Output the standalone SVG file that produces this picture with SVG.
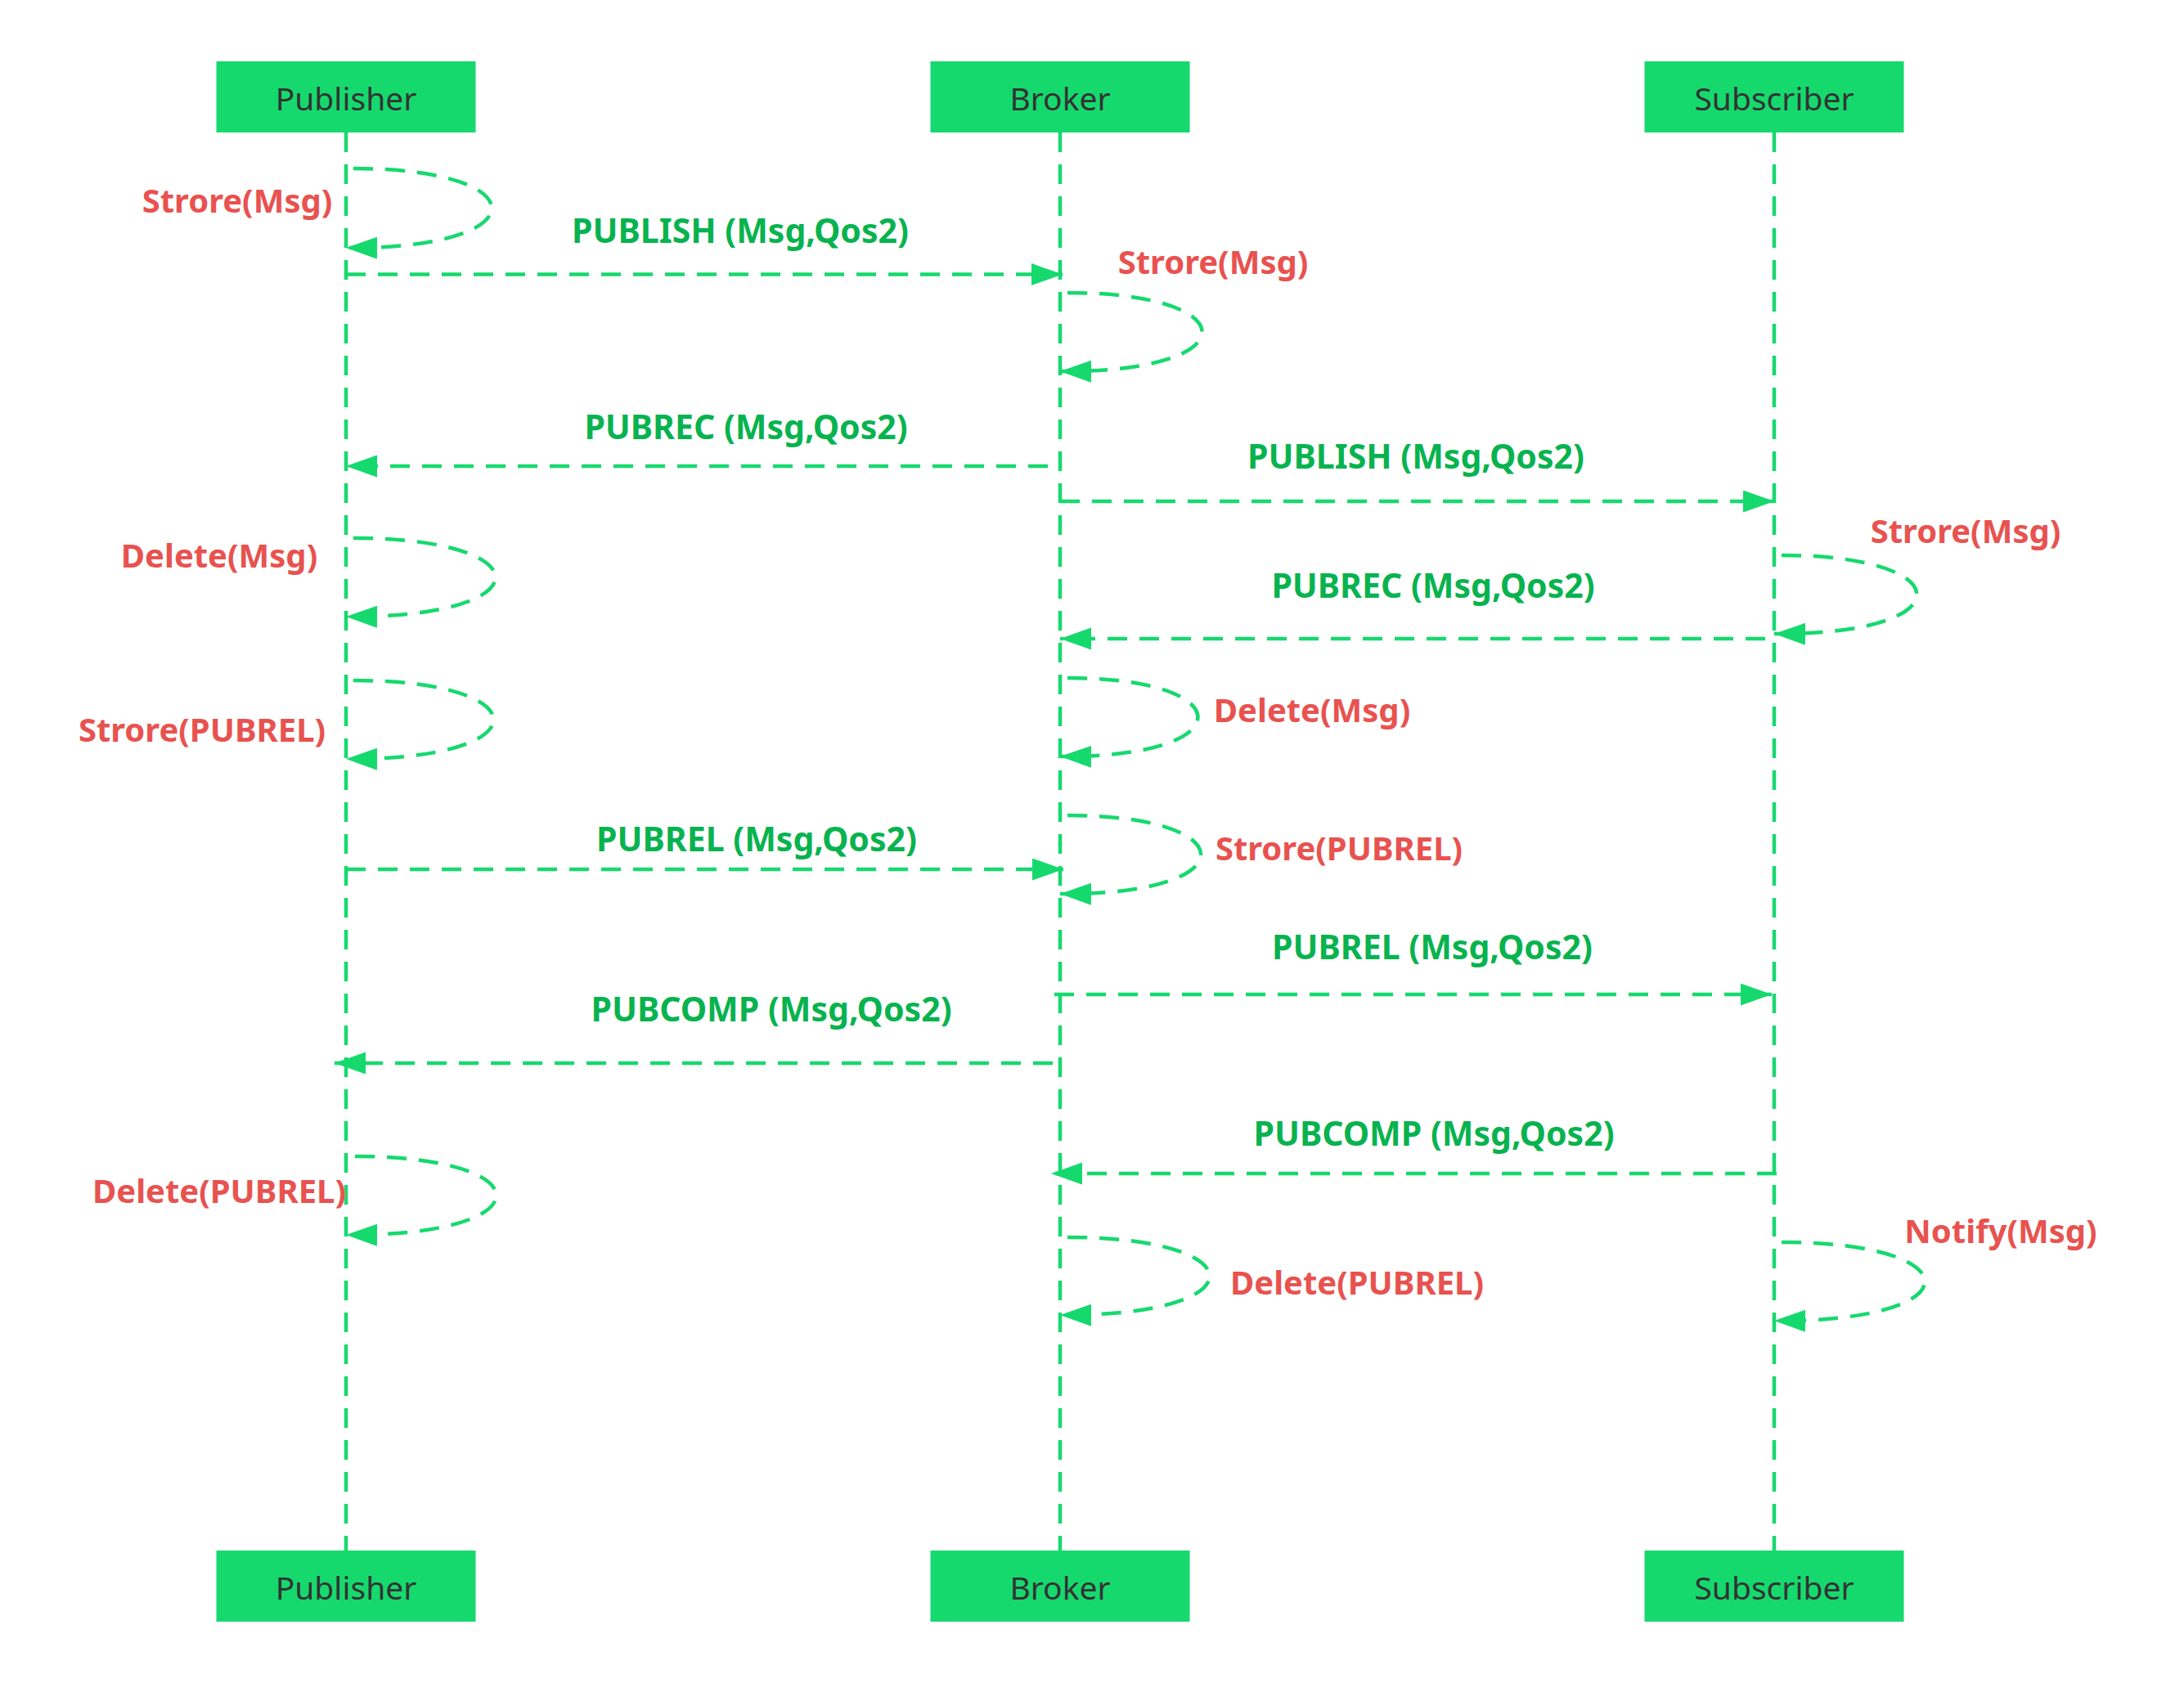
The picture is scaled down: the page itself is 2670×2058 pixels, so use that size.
<svg xmlns="http://www.w3.org/2000/svg" width="2670" height="2058" viewBox="0 0 2670 2058">
<style>
.box{fill:#16d96e;}
.boxtxt{font-family:"Noto Sans","Open Sans","Liberation Sans",sans-serif;font-size:39px;fill:#333333;text-anchor:middle;}
.line{fill:none;stroke:#16d96e;stroke-width:4.5;stroke-dasharray:24 15;}
.msg{font-family:"Noto Sans","Open Sans","Liberation Sans",sans-serif;font-size:41px;font-weight:bold;fill:#08b34f;text-anchor:middle;}
.note{font-family:"Noto Sans","Open Sans","Liberation Sans",sans-serif;font-size:40px;font-weight:bold;fill:#e8524f;text-anchor:middle;}
</style>
<defs>
<marker id="arrow" markerUnits="userSpaceOnUse" markerWidth="40" markerHeight="28" refX="38" refY="13.5" orient="auto" viewBox="0 0 40 28">
<path d="M0,0 L38,13.5 L0,27 Z" fill="#16d96e"/>
</marker>
</defs>
<rect width="2670" height="2058" fill="#ffffff"/>

<g id="connectors">
<g id="lifelines">
<path class="line" d="M423,162 V1896"/>
<path class="line" d="M1296,162 V1896"/>
<path class="line" d="M2169,162 V1896"/>
</g>
<g id="msg-publish-pb">
<path class="line" d="M423,335.5 H1299" marker-end="url(#arrow)"/>
<text class="msg" x="905" y="297">PUBLISH (Msg,Qos2)</text>
</g>
<g id="msg-pubrec-bp">
<path class="line" d="M1281,570 H423" marker-end="url(#arrow)"/>
<text class="msg" x="912" y="537">PUBREC (Msg,Qos2)</text>
</g>
<g id="msg-publish-bs">
<path class="line" d="M1296,613 H2169" marker-end="url(#arrow)"/>
<text class="msg" x="1731" y="573">PUBLISH (Msg,Qos2)</text>
</g>
<g id="msg-pubrec-sb">
<path class="line" d="M2158,781 H1296" marker-end="url(#arrow)"/>
<text class="msg" x="1752" y="731">PUBREC (Msg,Qos2)</text>
</g>
<g id="msg-pubrel-pb">
<path class="line" d="M423,1063 H1300" marker-end="url(#arrow)"/>
<text class="msg" x="925" y="1041">PUBREL (Msg,Qos2)</text>
</g>
<g id="msg-pubrel-bs">
<path class="line" d="M1289,1216 H2166" marker-end="url(#arrow)"/>
<text class="msg" x="1751" y="1173">PUBREL (Msg,Qos2)</text>
</g>
<g id="msg-pubcomp-bp">
<path class="line" d="M1287,1300 H409" marker-end="url(#arrow)"/>
<text class="msg" x="943" y="1249">PUBCOMP (Msg,Qos2)</text>
</g>
<g id="msg-pubcomp-sb">
<path class="line" d="M2172,1435 H1285" marker-end="url(#arrow)"/>
<text class="msg" x="1753" y="1401">PUBCOMP (Msg,Qos2)</text>
</g>

<g id="self-pub-store-msg">
<path class="line" d="M432,206 C659,206 659,305 423,303" marker-end="url(#arrow)"/>
<text class="note" x="290" y="260">Strore(Msg)</text>
</g>
<g id="self-broker-store-msg">
<path class="line" d="M1305,358 C1526,358 1526,456 1296,454" marker-end="url(#arrow)"/>
<text class="note" x="1483" y="335">Strore(Msg)</text>
</g>
<g id="self-pub-delete-msg">
<path class="line" d="M432,658 C665,658 665,756 423,754" marker-end="url(#arrow)"/>
<text class="note" x="268" y="694">Delete(Msg)</text>
</g>
<g id="self-sub-store-msg">
<path class="line" d="M2178,679 C2400,679 2400,777 2169,775" marker-end="url(#arrow)"/>
<text class="note" x="2403" y="664">Strore(Msg)</text>
</g>
<g id="self-pub-store-pubrel">
<path class="line" d="M432,832 C662,832 662,930 423,928" marker-end="url(#arrow)"/>
<text class="note" x="247" y="907">Strore(PUBREL)</text>
</g>
<g id="self-broker-delete-msg">
<path class="line" d="M1305,829 C1519,829 1519,927 1296,925" marker-end="url(#arrow)"/>
<text class="note" x="1604" y="883">Delete(Msg)</text>
</g>
<g id="self-broker-store-pubrel">
<path class="line" d="M1305,997 C1524,997 1524,1095 1296,1093" marker-end="url(#arrow)"/>
<text class="note" x="1637" y="1052">Strore(PUBREL)</text>
</g>
<g id="self-pub-delete-pubrel">
<path class="line" d="M434,1414 C666,1414 666,1512 423,1510" marker-end="url(#arrow)"/>
<text class="note" x="268" y="1471">Delete(PUBREL)</text>
</g>
<g id="self-broker-delete-pubrel">
<path class="line" d="M1305,1513 C1538,1513 1538,1610 1296,1608" marker-end="url(#arrow)"/>
<text class="note" x="1659" y="1583">Delete(PUBREL)</text>
</g>
<g id="self-sub-notify-msg">
<path class="line" d="M2178,1519 C2413,1519 2413,1617 2169,1615" marker-end="url(#arrow)"/>
<text class="note" x="2446" y="1520">Notify(Msg)</text>
</g>
</g>

<g id="node-publisher-top">
<rect class="box" x="264.5" y="75" width="317" height="87"/>
<text class="boxtxt" x="423" y="135">Publisher</text>
</g>
<g id="node-broker-top">
<rect class="box" x="1137.5" y="75" width="317" height="87"/>
<text class="boxtxt" x="1296" y="135">Broker</text>
</g>
<g id="node-subscriber-top">
<rect class="box" x="2010.5" y="75" width="317" height="87"/>
<text class="boxtxt" x="2169" y="135">Subscriber</text>
</g>
<g id="node-publisher-bottom">
<rect class="box" x="264.5" y="1896" width="317" height="87"/>
<text class="boxtxt" x="423" y="1956">Publisher</text>
</g>
<g id="node-broker-bottom">
<rect class="box" x="1137.5" y="1896" width="317" height="87"/>
<text class="boxtxt" x="1296" y="1956">Broker</text>
</g>
<g id="node-subscriber-bottom">
<rect class="box" x="2010.5" y="1896" width="317" height="87"/>
<text class="boxtxt" x="2169" y="1956">Subscriber</text>
</g>
</svg>
